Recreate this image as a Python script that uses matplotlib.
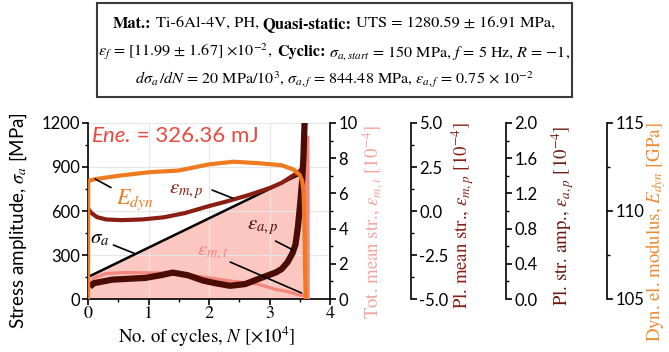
import matplotlib
matplotlib.use("Agg")
import matplotlib.pyplot as plt
from matplotlib.patches import Rectangle
from matplotlib.ticker import MultipleLocator, FormatStrFormatter

plt.rcParams['font.family'] = ['STIXGeneral', 'DejaVu Serif']
plt.rcParams['mathtext.fontset'] = 'stix'
plt.rcParams['axes.unicode_minus'] = False

# ---------------- data ----------------
N_sig = [0.0, 3.57]
sig_a = [150, 864]

N_mt = [0.02, 0.1, 0.3, 0.6, 1.0, 1.3, 1.6, 2.0, 2.4, 2.8, 3.1, 3.3, 3.5, 3.58, 3.61, 3.615, 3.635, 3.64]
eps_mt = [0.75, 1.2, 1.45, 1.5, 1.49, 1.47, 1.38, 1.2, 1.0, 0.85, 0.55, 0.42, 0.22, 0.2, 0.4, 9.2, 9.2, 0.0]

N_mp = [0.0, 0.05, 0.15, 0.3, 0.55, 0.9, 1.25, 1.6, 2.0, 2.3, 2.65, 3.0, 3.2, 3.45, 3.55, 3.57, 3.58, 3.585]
eps_mp = [0.15, -0.1, -0.35, -0.48, -0.52, -0.48, -0.36, -0.12, 0.28, 0.55, 0.9, 1.3, 1.6, 2.15, 2.4, 3.0, 4.3, 5.0]

N_ap = [0.03, 0.1, 0.4, 0.95, 1.2, 1.4, 1.65, 1.9, 2.1, 2.35, 2.6, 2.9, 3.1, 3.2, 3.3, 3.38, 3.43, 3.47, 3.51, 3.54, 3.56, 3.572, 3.58]
eps_ap = [0.14, 0.18, 0.22, 0.24, 0.27, 0.3, 0.27, 0.21, 0.18, 0.15, 0.17, 0.25, 0.3, 0.34, 0.42, 0.52, 0.62, 0.82, 1.1, 1.35, 1.6, 1.85, 2.0]

N_E = [0.0, 0.003, 0.1, 0.5, 1.0, 1.5, 2.0, 2.4, 2.8, 3.2, 3.4, 3.5, 3.54, 3.56, 3.57, 3.58, 3.59, 3.6]
E_dyn = [105, 111.7, 111.8, 112.0, 112.2, 112.3, 112.65, 112.8, 112.72, 112.6, 112.35, 112.05, 111.7, 111.2, 110.3, 108.5, 106.3, 105]

# ---------------- colours ----------------
c_orange = '#EE7B1F'
c_mp = '#8B1E12'
c_ap = '#4A0C05'
c_mt = '#F4877B'
c_fill = '#FCC6C1'
c_tot_lab = '#F7A39C'
c_ene = '#E84A3F'

W, H = 669, 352
fig = plt.figure(figsize=(W / 100, H / 100), dpi=100)
ax = fig.add_axes([88 / W, 53 / H, 242 / W, 176 / H])

ax.set_xlim(0, 4)
ax.set_ylim(0, 1200)
ax.fill_between(N_sig + [3.59], 0, sig_a + [sig_a[-1]], color=c_fill, lw=0, zorder=1)
ax.plot(N_sig, sig_a, color='black', lw=1.8, zorder=3)
ax.set_axisbelow('line')
ax.grid(True, color='#e6e6e6', lw=0.8)

for s in ['top', 'right']:
    ax.spines[s].set_visible(False)
for s in ['left', 'bottom']:
    ax.spines[s].set_linewidth(1.2)

ax.xaxis.set_major_locator(MultipleLocator(1))
ax.xaxis.set_minor_locator(MultipleLocator(0.5))
ax.yaxis.set_major_locator(MultipleLocator(300))
ax.yaxis.set_minor_locator(MultipleLocator(150))
ax.tick_params(which='major', direction='out', length=4, width=1.2)
ax.tick_params(which='minor', direction='out', length=2.5, width=1.0)
ax.tick_params(axis='y', labelsize=12, labelfontfamily='Lato', pad=2)
ax.tick_params(axis='x', labelsize=13, pad=1)


def make_twin(pos, ylim, major, minor, fmt):
    t = ax.twinx()
    t.set_ylim(*ylim)
    for s in ['top', 'left', 'bottom']:
        t.spines[s].set_visible(False)
    t.spines['right'].set_position(('axes', pos))
    t.spines['right'].set_linewidth(1.2)
    t.yaxis.set_major_locator(MultipleLocator(major))
    t.yaxis.set_minor_locator(MultipleLocator(minor))
    t.yaxis.set_major_formatter(FormatStrFormatter(fmt))
    t.tick_params(which='major', direction='out', length=4, width=1.2)
    t.tick_params(which='minor', direction='out', length=2.5, width=1.0)
    t.tick_params(axis='y', labelsize=12, labelfontfamily='Lato', pad=2)
    t.patch.set_visible(False)
    return t


ax1 = make_twin(1.0, (0, 10), 2, 1, '%d')
ax2 = make_twin((411 - 88) / 242, (-5, 5), 2.5, 1.25, '%.1f')
ax3 = make_twin((506 - 88) / 242, (0, 2), 0.4, 0.2, '%.1f')
ax4 = make_twin((607 - 88) / 242, (105, 115), 5, 2.5, '%d')

ax1.plot(N_mt, eps_mt, color=c_mt, lw=2.3, solid_capstyle='butt')
ax2.plot(N_mp, eps_mp, color=c_mp, lw=3.0, solid_capstyle='butt')
ax3.plot(N_ap, eps_ap, color=c_ap, lw=4.5, solid_capstyle='butt')
ax4.plot(N_E, E_dyn, color=c_orange, lw=3.0, solid_capstyle='butt')

# curve labels with leader lines
tr = ax.transData


def lab(txt, xy_txt, p0, p1, color, size=15):
    ax4.text(*xy_txt, txt, transform=tr, color=color, fontsize=size, ha='center', va='center', zorder=6)
    ax4.annotate('', xy=p1, xycoords=tr, xytext=p0, textcoords=tr,
                 arrowprops=dict(arrowstyle='-', color='black', lw=1.2, shrinkA=0, shrinkB=0), zorder=6)


lab(r'$E_{dyn}$', (0.78, 680), (0.12, 818), (0.38, 760), c_orange, 16)
lab(r'$\varepsilon_{m,p}$', (1.62, 735), (2.05, 743), (2.4, 686), c_mp)
lab(r'$\sigma_a$', (0.2, 416), (0.42, 368), (0.76, 312), 'black')
lab(r'$\varepsilon_{a,p}$', (2.88, 488), (3.1, 395), (3.4, 332), c_ap)
lab(r'$\varepsilon_{m,t}$', (2.07, 318), (2.35, 252), (3.53, 41), c_mt)

t1 = ax.text(0.015, 0.985, 'Ene.', transform=ax.transAxes, color=c_ene, fontsize=16,
             fontfamily='Lato', fontstyle='italic', ha='left', va='top', zorder=7)
ax.annotate(' = 326.36 mJ', xy=(1, 0), xycoords=t1, color=c_ene, fontsize=16,
            fontfamily='Lato', ha='left', va='bottom', zorder=7)

# axis labels
fig.text(18 / W, 1 - 221 / H, r'Stress amplitude, $\sigma_a$ [MPa]', fontfamily='Lato', fontsize=13.5,
         rotation=90, ha='center', va='center')
fig.text(207 / W, 1 - 337 / H, r'No. of cycles, $N$ [×10$^4$]', fontsize=13.5, ha='center', va='center')
fig.text(373 / W, 1 - 222 / H, r'Tot. mean str., $\varepsilon_{m,t}$ [10$^{-4}$]', fontsize=13.5,
         color=c_tot_lab, rotation=90, ha='center', va='center')
fig.text(463 / W, 1 - 216 / H, r'Pl. mean str., $\varepsilon_{m,p}$ [10$^{-4}$]', fontsize=13.5,
         color=c_mp, rotation=90, ha='center', va='center')
fig.text(563 / W, 1 - 216 / H, r'Pl. str. amp., $\varepsilon_{a,p}$ [10$^{-4}$]', fontsize=13.5,
         color='#6B1A10', rotation=90, ha='center', va='center')
fig.text(656 / W, 1 - 232 / H, r'Dyn. el. modulus, $E_{dyn}$ [GPa]', fontsize=13.5,
         color='#F08A30', rotation=90, ha='center', va='center')

# header box
fig.patches.append(Rectangle((97 / W, 1 - 97 / H), (572 - 97) / W, 94 / H, transform=fig.transFigure,
                             fill=False, ec='#3a3a3a', lw=1.5))
hdr = [
    [("Mat.:", True), (" Ti-6Al-4V, PH, ", False), ("Quasi-static:", True),
     (" UTS = 1280.59 ± 16.91 MPa,", False)],
    [(r"$\varepsilon_f$ = [11.99 ± 1.67] ×10$^{-2}$, ", False), ("Cyclic:", True),
     (r" $\sigma_{a,start}$ = 150 MPa, $f$ = 5 Hz, $R$ = −1,", False)],
    [(r"$d\sigma_a\,/dN$ = 20 MPa/10$^3$, $\sigma_{a,f}$ = 844.48 MPa, $\varepsilon_{a,f}$ = 0.75 × 10$^{-2}$", False)],
]
hdr_span = [(113, 555), (99, 570), (134, 534)]
hdr_base = [28, 56, 84]
renderer = fig.canvas.get_renderer()


def wpx(s, bold, size):
    t = fig.text(0, 0, s, fontsize=size, fontweight='bold' if bold else 'normal')
    w = t.get_window_extent(renderer).width
    t.remove()
    return w


def arrange(texts, pieces, size, center):
    xs, x = [], 0.0
    for t, (s, bold) in zip(texts, pieces):
        t.set_fontsize(size)
        sp = wpx('x x', bold, size) - wpx('xx', bold, size)
        lead = len(s) - len(s.lstrip(' '))
        trail = len(s) - len(s.rstrip(' '))
        x += lead * sp
        xs.append(x)
        t.set_x(0)
        x += t.get_window_extent(renderer).width + trail * sp
    off = center - x / 2
    for t, xx in zip(texts, xs):
        t.set_x((xx + off) / W)


for yy, pieces, (x0, x1) in zip(hdr_base, hdr, hdr_span):
    texts = [fig.text(0, 1 - yy / H, s.strip(' '), fontsize=12, fontweight='bold' if b else 'normal',
                      ha='left', va='baseline') for s, b in pieces]
    size = 12.0
    for _ in range(2):
        arrange(texts, pieces, size, (x0 + x1) / 2)
        e0 = texts[0].get_window_extent(renderer).x0
        e1 = texts[-1].get_window_extent(renderer).x1
        size = size * (x1 - x0) / (e1 - e0)
    arrange(texts, pieces, size, (x0 + x1) / 2)

fig.savefig('out.png', dpi=100)
